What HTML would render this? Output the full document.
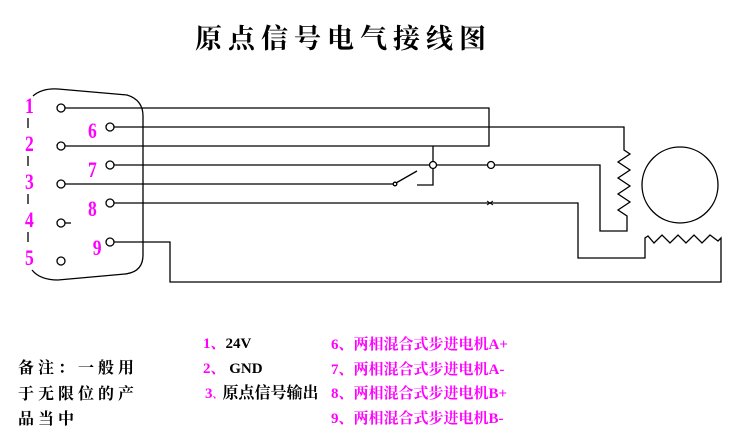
<!DOCTYPE html>
<html><head><meta charset="utf-8"><style>
html,body{margin:0;padding:0;background:#fff;width:748px;height:446px;overflow:hidden}
svg{display:block}
.m{fill:#ff00ff;font-family:"Liberation Serif","Noto Serif CJK SC",serif;font-weight:bold}
.k{fill:#000;font-family:"Liberation Serif","Noto Serif CJK SC",serif;font-weight:bold}
</style></head><body>
<svg width="748" height="446" viewBox="0 0 748 446" xmlns="http://www.w3.org/2000/svg">
<text x="195" y="48" class="k" font-size="27" letter-spacing="6">原点信号电气接线图</text>
<g fill="none" stroke="#000" stroke-width="1.3">
<path d="M33,96 Q42,88 58,89 L127,95 Q143,100 143,116 L143,255 Q143,272 125,274 L58,280 Q40,280 32,270"/>
<path d="M28,118 V128 M28,156 V166 M28,194 V204 M28,232 V242"/>
<circle cx="61" cy="108" r="4"/><circle cx="61" cy="146" r="4"/><circle cx="61" cy="184" r="4"/>
<circle cx="61" cy="223" r="4"/><circle cx="61" cy="261" r="4"/>
<circle cx="110" cy="127" r="4"/><circle cx="110" cy="165" r="4"/><circle cx="110" cy="203" r="4"/><circle cx="110" cy="242" r="4"/>
<path d="M65,223 H71"/>
<path d="M65,108 H489 V146 H65"/>
<path d="M114,127 H624 V150 L630,154 L618,162 L630,170 L618,178 L630,186 L618,194 L630,202 L618,210 L627,216 V231 H600 V165 H494"/>
<circle cx="491" cy="165" r="3.5"/>
<path d="M114,165 H430 M436,165 H488"/>
<circle cx="433" cy="165" r="3.5"/>
<path d="M433,146 V162 M433,168 V185 H417"/>
<path d="M65,184 H393"/><circle cx="395" cy="184" r="1.8"/>
<path d="M396,183 L417,171"/>
<path d="M114,203 H578 V258 H645 V238 L648,236 L654,243 L662,235 L670,243 L678,235 L686,243 L694,235 L702,243 L710,235 L718,241 L721,238 V282 H170 V242 H114"/>
<path d="M487,201 l3,2 l-3,2 M493,201 l-3,2 l3,2" stroke-width="1"/>
<circle cx="680" cy="185" r="38"/>
</g>
<g class="m" font-size="22">
<g transform="translate(25,0) scale(0.8,1)"><text x="0" y="113">1</text><text x="0" y="151">2</text><text x="0" y="189">3</text>
<text x="0" y="227">4</text><text x="0" y="265">5</text></g>
<g transform="translate(88,0) scale(0.8,1)"><text x="0" y="138">6</text><text x="0" y="177">7</text><text x="0" y="216">8</text><text x="6" y="255">9</text></g>
</g>
<g class="k" font-size="16" letter-spacing="4">
<text x="18" y="373">备注：一般用</text>
<text x="18" y="399">于无限位的产</text>
<text x="18" y="424">品当中</text>
</g>
<g font-size="15">
<text x="203" y="348" class="m">1、<tspan class="k">24V</tspan></text>
<text x="203" y="373" class="m">2、 <tspan class="k">GND</tspan></text>
<text x="205" y="398" class="m" font-size="15">3<tspan font-size="10">、</tspan><tspan class="k" font-weight="normal" font-size="16">原点信号输出</tspan></text>
</g>
<g class="m" font-size="15">
<text x="331" y="349">6、两相混合式步进电机A+</text>
<text x="331" y="374">7、两相混合式步进电机A-</text>
<text x="331" y="398">8、两相混合式步进电机B+</text>
<text x="331" y="423">9、两相混合式步进电机B-</text>
</g>
</svg>
</body></html>
